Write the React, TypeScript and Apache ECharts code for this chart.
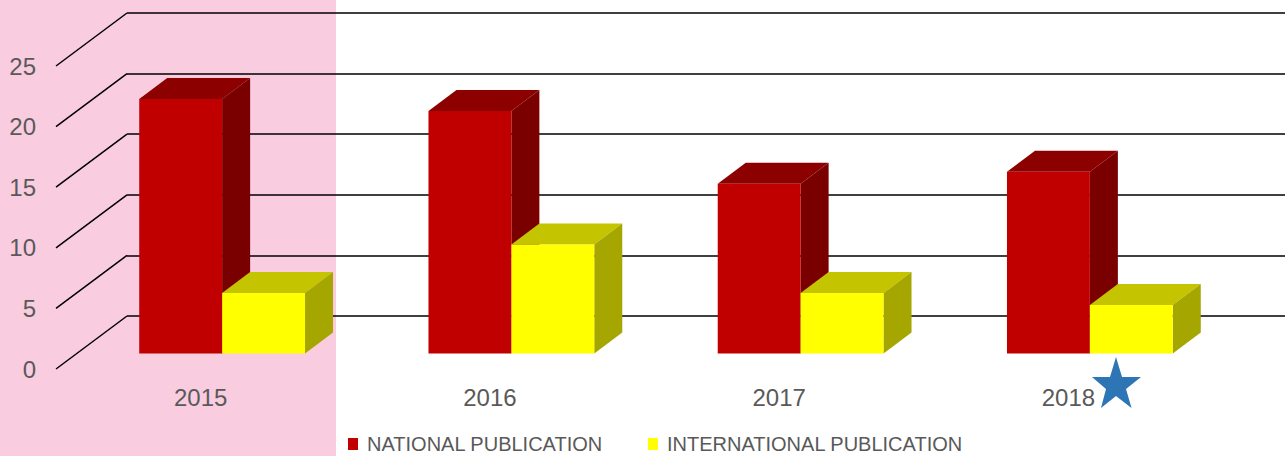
import React, { useEffect, useRef } from "react";
import * as echarts from "echarts";

const categories = ["2015", "2016", "2017", "2018"];
const nationalValues = [21, 20, 14, 15];
const internationalValues = [5, 9, 5, 4];
const axisTicks = [0, 5, 10, 15, 20, 25];

const DX = 28, DY = 21; // bar depth projection
const PLANE_DX = 21.5, PLANE_DY = 15.5; // bar plane vs. front plane
const WALL_DX = 71, WALL_DY = 53; // back wall vs. front plane
const FONT = "'Liberation Sans', sans-serif";

function bar3d(side: number, front: string, top: string, right: string) {
  return (params: any, api: any) => {
    const idx = api.value(0);
    const val = api.value(1);
    const band = api.size([1, 0])[0];
    const w = band * 0.2866;
    const c0 = api.coord([idx, 0]);
    const c1 = api.coord([idx, val]);
    const x0 = c0[0] + PLANE_DX + (side < 0 ? -w : 0);
    const x1 = x0 + w;
    const yb = c0[1] - PLANE_DY;
    const yt = c1[1] - PLANE_DY;
    return {
      type: "group",
      children: [
        { type: "polygon", shape: { points: [[x0, yt], [x1, yt], [x1 + DX, yt - DY], [x0 + DX, yt - DY]] }, style: { fill: top } },
        { type: "polygon", shape: { points: [[x1, yt], [x1 + DX, yt - DY], [x1 + DX, yb - DY], [x1, yb]] }, style: { fill: right } },
        { type: "rect", shape: { x: x0, y: yt, width: w, height: yb - yt }, style: { fill: front } },
      ],
    };
  };
}

export default function App() {
  const ref = useRef<HTMLDivElement>(null);
  useEffect(() => {
    const chart = echarts.init(ref.current!, null, { renderer: "svg" });
    chart.setOption({
      animation: false,
      backgroundColor: "#ffffff",
      graphic: [
        { type: "rect", z: -10, shape: { x: 0, y: 0, width: 336, height: 456 }, style: { fill: "#F9CCE0" } },
        {
          type: "polygon", z: 100,
          shape: { points: [[1116, 357], [1122, 377], [1141, 377], [1126, 389], [1131.5, 408], [1116, 396], [1101, 408], [1106, 389], [1092, 377], [1110, 377]] },
          style: { fill: "#2E75B6" },
        },
      ],
      legend: {
        left: 343, top: 429, selectedMode: false, itemWidth: 10, itemHeight: 12, itemGap: 45,
        icon: "rect",
        textStyle: { color: "#595959", fontFamily: FONT, fontSize: 20, padding: [0, 0, 0, 4] },
        data: ["NATIONAL PUBLICATION", "INTERNATIONAL PUBLICATION"],
      },
      grid: [
        { left: 56, top: 66, width: 1157, height: 303 },
        { left: 127, top: 13, width: 1158, height: 303 },
      ],
      xAxis: [
        {
          type: "category", gridIndex: 0, data: categories,
          axisLine: { show: false }, axisTick: { show: false },
          axisLabel: { color: "#595959", fontFamily: FONT, fontSize: 24, margin: 16 },
        },
        { type: "value", gridIndex: 1, min: 0, max: 1, show: false },
      ],
      yAxis: [
        {
          type: "value", gridIndex: 0, min: 0, max: 25, interval: 5,
          axisLine: { show: false }, axisTick: { show: false }, splitLine: { show: false },
          axisLabel: { color: "#595959", fontFamily: FONT, fontSize: 24, margin: 20 },
        },
        {
          type: "value", gridIndex: 1, min: 0, max: 25, interval: 5,
          axisLine: { show: false }, axisTick: { show: false }, axisLabel: { show: false },
          splitLine: { show: true, lineStyle: { color: "#000000", width: 1.5 } },
        },
      ],
      series: [
        {
          type: "custom", name: "wall", xAxisIndex: 0, yAxisIndex: 0, silent: true, z: 1,
          data: axisTicks.map((t) => [0, t]),
          renderItem: (params: any, api: any) => {
            const y = api.coord([0, api.value(1)])[1];
            const x = params.coordSys.x;
            return {
              type: "line",
              shape: { x1: x, y1: y, x2: x + WALL_DX, y2: y - WALL_DY },
              style: { stroke: "#000000", lineWidth: 1.5 },
            };
          },
        },
        {
          type: "custom", name: "NATIONAL PUBLICATION", xAxisIndex: 0, yAxisIndex: 0, z: 3,
          itemStyle: { color: "#C00000" },
          data: nationalValues.map((v, i) => [i, v]),
          renderItem: bar3d(-1, "#C00000", "#8C0000", "#7A0000"),
        },
        {
          type: "custom", name: "INTERNATIONAL PUBLICATION", xAxisIndex: 0, yAxisIndex: 0, z: 4,
          itemStyle: { color: "#FFFF00" },
          data: internationalValues.map((v, i) => [i, v]),
          renderItem: bar3d(1, "#FFFF00", "#C4C400", "#A6A600"),
        },
      ],
    });
    return () => chart.dispose();
  }, []);
  return <div ref={ref} style={{ position: "absolute", left: 0, top: 0, width: 1285, height: 456 }} />;
}
